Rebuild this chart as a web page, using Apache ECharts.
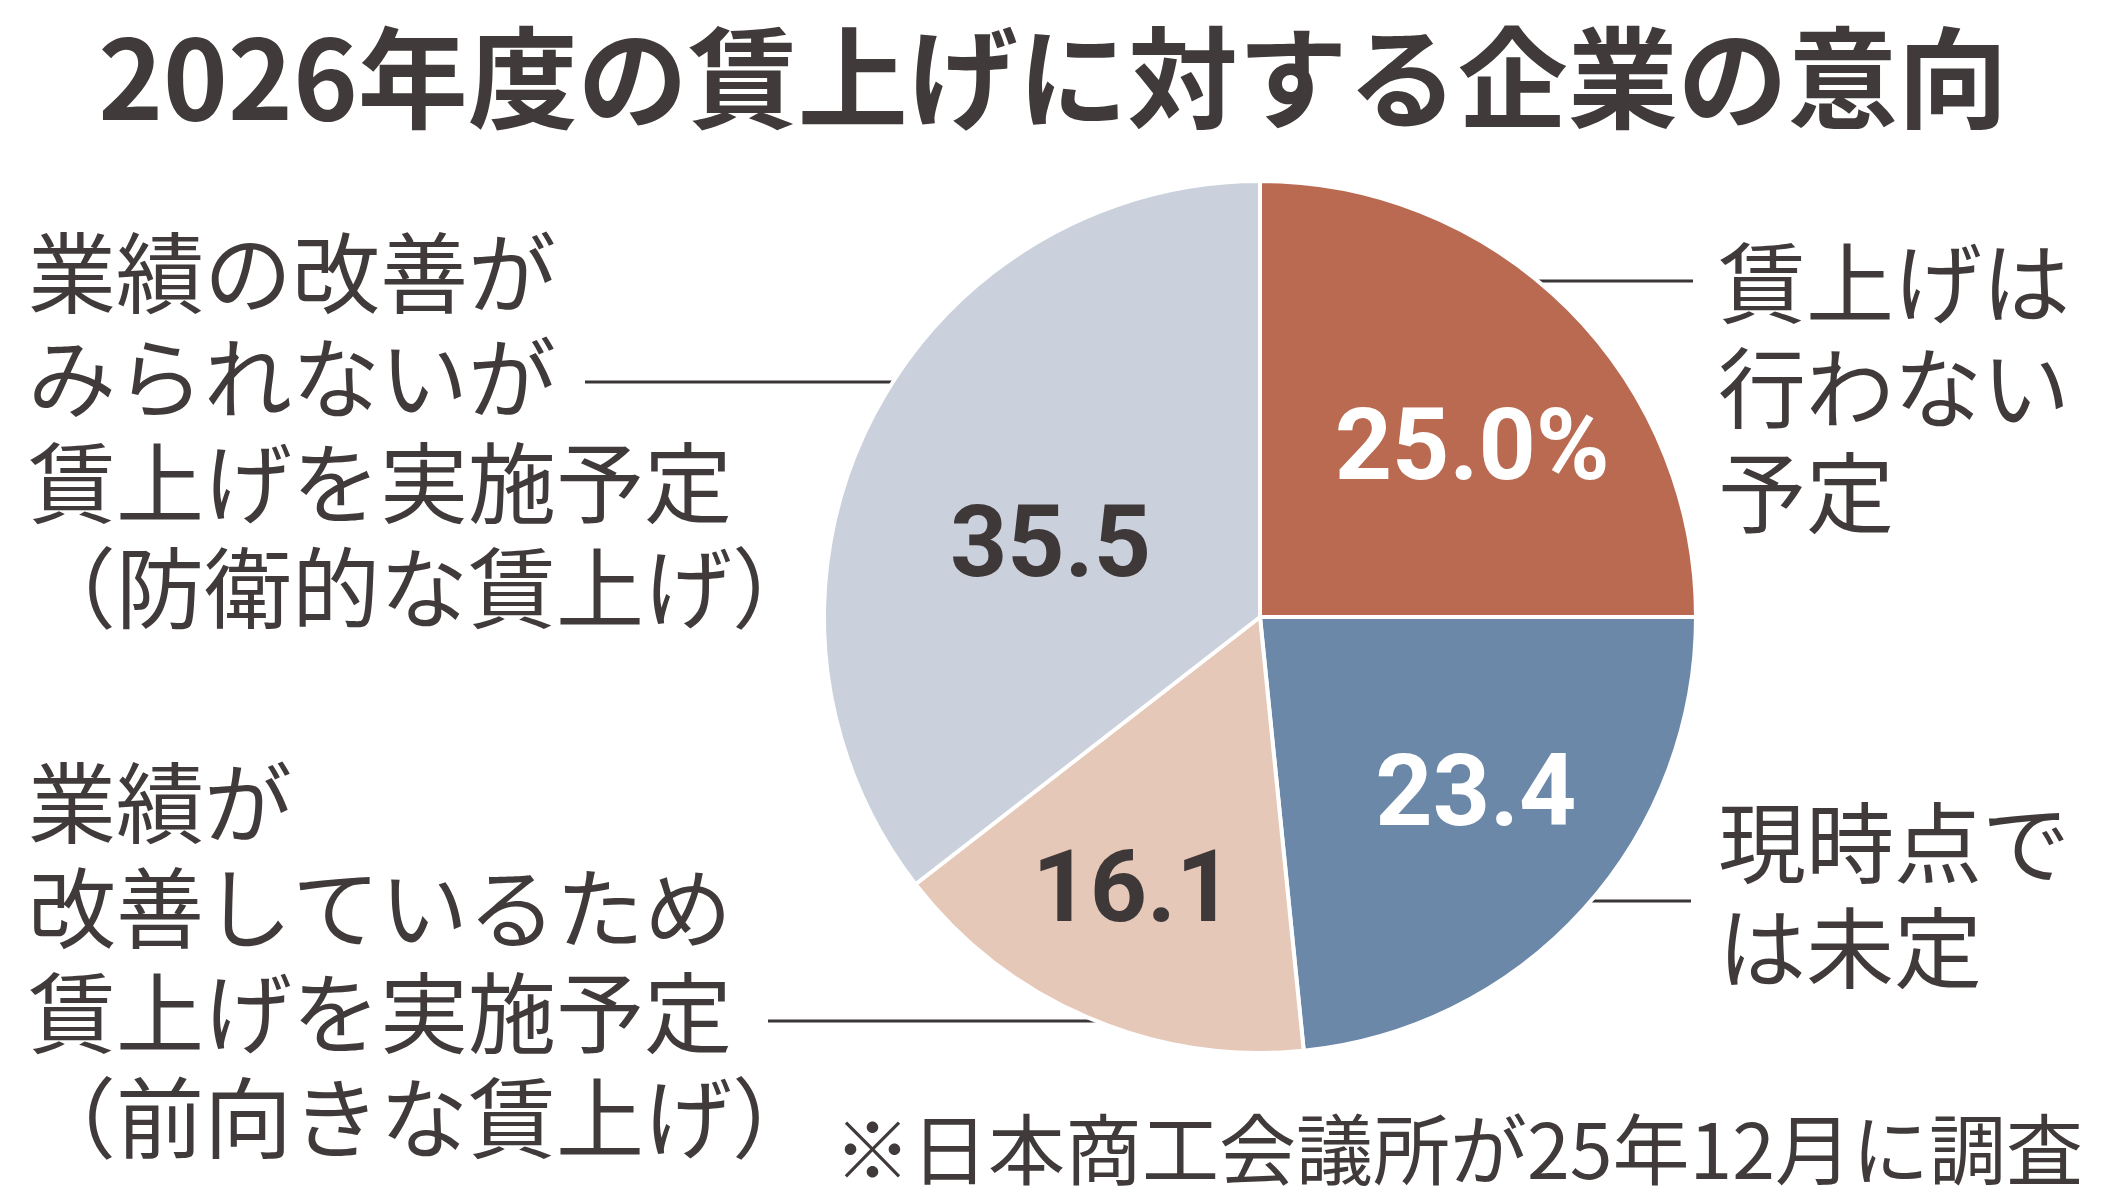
<!DOCTYPE html>
<html>
<head>
<meta charset="utf-8">
<script src="https://cdn.jsdelivr.net/npm/echarts@6/dist/echarts.min.js"></script>
<style>
  html, body { margin: 0; padding: 0; background: #fff; }
  #chart { width: 2106px; height: 1188px; }
</style>
</head>
<body>
<div id="chart"></div>
<script>
// data
var categories = [
  '賃上げは\n行わない\n予定',
  '現時点で\nは未定',
  '業績が\n改善しているため\n賃上げを実施予定\n（前向きな賃上げ）',
  '業績の改善が\nみられないが\n賃上げを実施予定\n（防衛的な賃上げ）'
];
var values = [25.0, 23.4, 16.1, 35.5];
var valueLabels = ['25.0%', '23.4', '16.1', '35.5'];

var colors = ['#b96a50', '#6c88a8', '#e5c8b8', '#cbd1dc'];
var valueColors = ['#ffffff', '#ffffff', '#3f3838', '#3f3838'];
var textColor = '#403a3a';

// pie geometry (px)
var cx = 1260, cy = 617, R = 436;

// nudges for the numbers inside the slices
var valueNudge = [[56, -7], [52, 35], [-40, 76], [-11, 31]];

// outer labels: text box left/top, leader y and far end x
var outerLabels = [
  { x: 1718, y: 230, lineY: 281, lineEnd: 1693, side: 1 },
  { x: 1718, y: 790, lineY: 901, lineEnd: 1691, side: 1 },
  { x: 28,   y: 750, lineY: 1021, lineEnd: 768, side: -1 },
  { x: 28,   y: 220, lineY: 382, lineEnd: 585, side: -1 }
];

var chart = echarts.init(document.getElementById('chart'), null, { renderer: 'canvas' });

var pieData = values.map(function (v, i) {
  return {
    value: v,
    name: categories[i],
    itemStyle: { color: colors[i] },
    label: { color: valueColors[i] }
  };
});

var ghostData = values.map(function (v, i) {
  return { value: v, name: categories[i] };
});

var option = {
  backgroundColor: '#ffffff',
  animation: false,
  title: [
    {
      text: '2026年度の賃上げに対する企業の意向',
      left: 'center',
      top: 15,
      textStyle: {
        fontFamily: '"Noto Sans CJK JP", sans-serif',
        fontSize: 110,
        fontWeight: 'bold',
        color: textColor,
        lineHeight: 116
      }
    },
    {
      text: '※日本商工会議所が25年12月に調査',
      right: 18,
      top: 1102,
      textStyle: {
        fontFamily: '"Noto Sans CJK JP", sans-serif',
        fontSize: 77,
        fontWeight: 'normal',
        color: textColor,
        lineHeight: 86
      }
    }
  ],
  series: [
    {
      type: 'pie',
      center: [cx, cy],
      radius: [0, R],
      startAngle: 90,
      clockwise: true,
      silent: true,
      avoidLabelOverlap: false,
      itemStyle: { borderColor: '#ffffff', borderWidth: 4 },
      label: {
        show: true,
        position: 'inside',
        formatter: function (p) { return valueLabels[p.dataIndex]; },
        fontFamily: 'Roboto, Arial, sans-serif',
        fontWeight: 'bold',
        fontSize: 100
      },
      labelLine: { show: false },
      labelLayout: function (p) {
        var n = valueNudge[p.dataIndex];
        return { dx: n[0], dy: n[1] };
      },
      data: pieData
    },
    {
      type: 'pie',
      center: [cx, cy],
      radius: [0, R],
      startAngle: 90,
      clockwise: true,
      silent: true,
      avoidLabelOverlap: false,
      itemStyle: { color: 'rgba(0,0,0,0)', borderWidth: 0 },
      label: {
        show: true,
        position: 'outside',
        formatter: '{b}',
        fontFamily: '"Noto Sans CJK JP", sans-serif',
        fontSize: 88,
        lineHeight: 105,
        color: textColor,
        align: 'left'
      },
      labelLine: {
        show: true,
        lineStyle: { color: '#3a3636', width: 3 }
      },
      labelLayout: function (p) {
        var o = outerLabels[p.dataIndex];
        var dy = o.lineY - cy;
        var edgeX = cx + o.side * Math.sqrt(R * R - dy * dy);
        var midX = (edgeX + o.lineEnd) / 2;
        return {
          x: o.x,
          y: o.y,
          align: 'left',
          verticalAlign: 'top',
          labelLinePoints: [[edgeX, o.lineY], [midX, o.lineY], [o.lineEnd, o.lineY]]
        };
      },
      data: ghostData
    }
  ]
};

chart.setOption(option);
window.addEventListener('resize', chart.resize);
</script>
</body>
</html>
